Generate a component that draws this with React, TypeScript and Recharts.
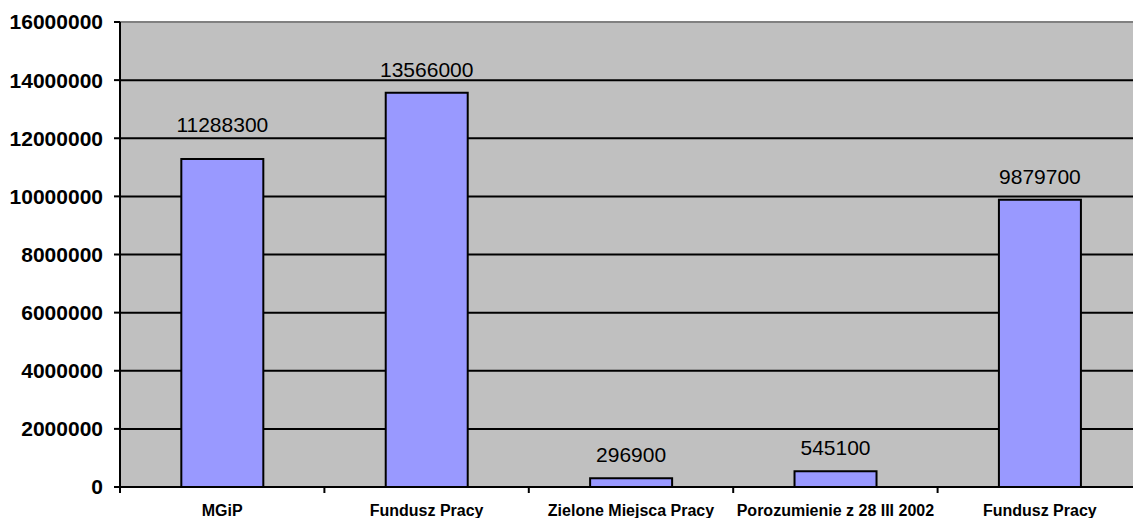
import { BarChart, Bar, XAxis, YAxis, CartesianGrid, LabelList, ReferenceLine } from "recharts";

const categories = ["MGiP", "Fundusz Pracy", "Zielone Miejsca Pracy", "Porozumienie z 28 III 2002", "Fundusz Pracy"];
const values = [11288300, 13566000, 296900, 545100, 9879700];
const yTicks = [0, 2000000, 4000000, 6000000, 8000000, 10000000, 12000000, 14000000, 16000000];

const data = categories.map((name, i) => ({ name, value: values[i] }));

const FONT = "Arial, 'Liberation Sans', sans-serif";
const PLOT_LEFT = 120;
const PLOT_TOP = 22;
const PLOT_H = 465;
const CHART_W = 1142;
const STEP = (CHART_W - PLOT_LEFT) / categories.length;
const GRID_STEP = PLOT_H / (yTicks.length - 1);

function CatTick(props: any) {
  const { x, y, payload } = props;
  return (
    <g>
      <line x1={x - STEP / 2} x2={x - STEP / 2} y1={y} y2={y + 6} stroke="#000" strokeWidth={2} />
      <text x={x} y={y + 29} textAnchor="middle" fontFamily={FONT} fontSize={16} fontWeight="bold" fill="#000">
        {payload.value}
      </text>
    </g>
  );
}

// value label above the bar; nudged up when it would sit on a gridline (like Excel)
function ValueLabel(props: any) {
  const { x, y, width, value } = props;
  let base = y - 16;
  const k = Math.round((base - PLOT_TOP) / GRID_STEP);
  for (const g of [k - 1, k, k + 1]) {
    const gy = PLOT_TOP + g * GRID_STEP;
    if (base - 15 < gy + 1 && base > gy - 2) base = gy - 6;
  }
  return (
    <text x={x + width / 2} y={base} textAnchor="middle" fontFamily={FONT} fontSize={21} fill="#000">
      {value}
    </text>
  );
}

export default function App() {
  return (
    <div style={{ position: "absolute", left: 0, top: 0, width: 1133, height: 518, overflow: "hidden", background: "#fff" }}>
      <BarChart
        width={CHART_W}
        height={518}
        data={data}
        margin={{ top: PLOT_TOP, right: 0, left: 0, bottom: 0 }}
        barCategoryGap="30%"
      >
        <CartesianGrid vertical={false} stroke="#000" strokeWidth={2} fill="#C0C0C0" fillOpacity={1} />
        <ReferenceLine y={16000000} stroke="#808080" strokeWidth={2} />
        <XAxis
          dataKey="name"
          height={31}
          interval={0}
          tickSize={0}
          tickMargin={0}
          tickLine={false}
          axisLine={{ stroke: "#000", strokeWidth: 2 }}
          tick={<CatTick />}
        />
        <YAxis
          type="number"
          domain={[0, 16000000]}
          ticks={yTicks}
          interval={0}
          width={PLOT_LEFT}
          tickSize={6}
          tickMargin={11}
          tickLine={{ stroke: "#000", strokeWidth: 2 }}
          axisLine={{ stroke: "#000", strokeWidth: 2 }}
          tick={{ fontFamily: FONT, fontSize: 21, fontWeight: "bold", fill: "#000" }}
        />
        <Bar dataKey="value" fill="#9999FF" stroke="#000" strokeWidth={2} isAnimationActive={false}>
          <LabelList dataKey="value" content={<ValueLabel />} />
        </Bar>
      </BarChart>
    </div>
  );
}
